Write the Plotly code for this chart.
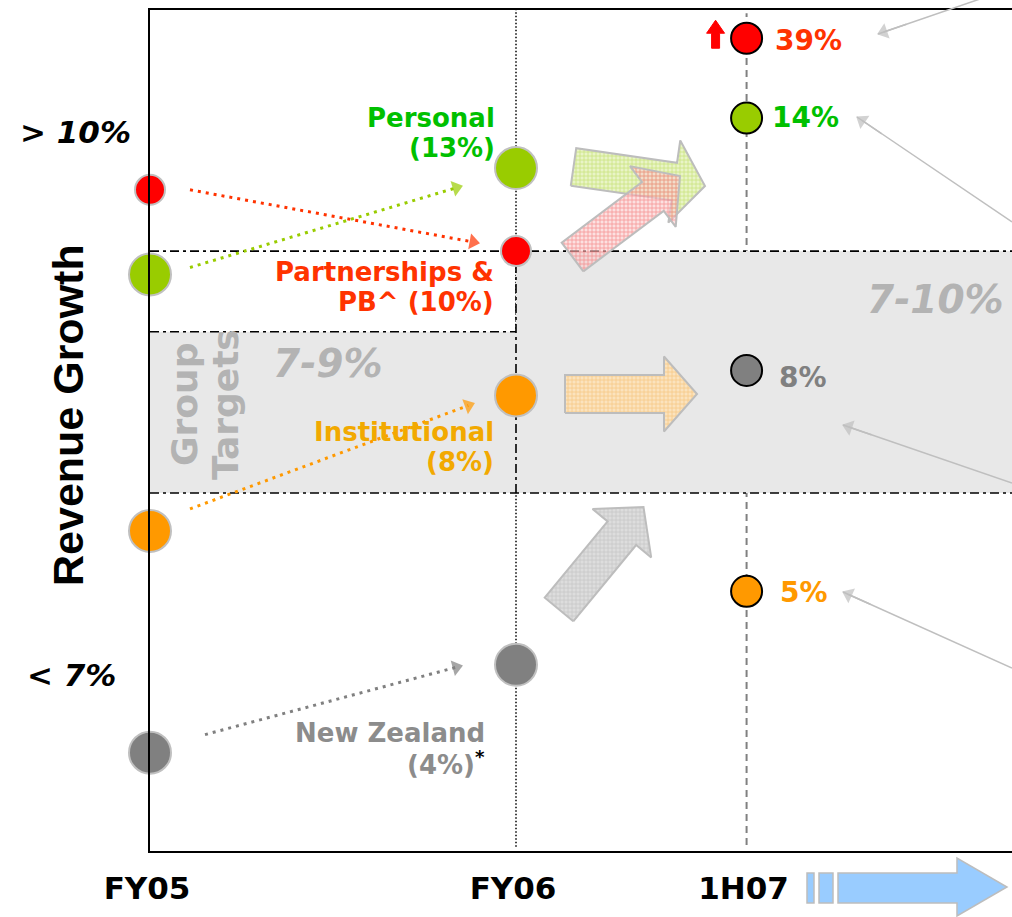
import math
import plotly.graph_objects as go

# ---------------------------------------------------------------- data
periods = ["FY05", "FY06", "1H07"]
period_x = [0.0, 1.0, 1.63]

segments = ["Partnerships & PB^", "Personal", "Institutional", "New Zealand"]
segment_label_lines = [["Partnerships &", "PB^ (10%)"], ["Personal", "(13%)"],
                       ["Institutional", "(8%)"], ["New Zealand", "(4%)"]]
segment_colors = ["#FF0000", "#99CC00", "#FF9900", "#808080"]
segment_text_colors = ["#FF3300", "#00C000", "#F2A900", "#8C8C8C"]

fy06_growth = ["10%", "13%", "8%", "4%"]
h107_growth = ["39%", "14%", "5%", "8%"]
h107_text_colors = ["#FF3300", "#00C000", "#FF9900", "#808080"]

# vertical placement of each segment on the (schematic) revenue growth scale
level_fy05 = [10.76, 9.71, 6.53, 3.78]
level_fy06 = [10.0, 11.03, 8.21, 4.87]
level_1h07 = [12.64, 11.65, 5.78, 8.52]

group_target_fy06 = [7, 9]
group_target_1h07 = [7, 10]
scale_labels = ["> 10%", "< 7%"]

# ---------------------------------------------------------------- layout geometry
L, T, W, H = 150, 10, 862, 841
FIG_W, FIG_H = 1012, 917
X_RANGE = [0.0, W / 366.0]
Y_RANGE = [2.56, 12.99]
FONT = "DejaVu Sans"


def to_px(x, y):
    px = L + (x - X_RANGE[0]) / (X_RANGE[1] - X_RANGE[0]) * W
    py = T + (Y_RANGE[1] - y) / (Y_RANGE[1] - Y_RANGE[0]) * H
    return px, py


def to_xy(px, py):
    x = X_RANGE[0] + (px - L) / W * (X_RANGE[1] - X_RANGE[0])
    y = Y_RANGE[1] - (py - T) / H * (Y_RANGE[1] - Y_RANGE[0])
    return x, y


def paper(px, py):
    return (px - L) / W, (T + H - py) / H


def block_arrow(tail, tip, shaft_w, head_w, head_len):
    (tx, ty), (hx, hy) = tail, tip
    d = math.hypot(hx - tx, hy - ty)
    ux, uy = (hx - tx) / d, (hy - ty) / d
    nx, ny = -uy, ux
    bx, by = hx - ux * head_len, hy - uy * head_len
    s, h = shaft_w / 2, head_w / 2
    return [(tx + nx * s, ty + ny * s), (bx + nx * s, by + ny * s),
            (bx + nx * h, by + ny * h), (hx, hy),
            (bx - nx * h, by - ny * h), (bx - nx * s, by - ny * s),
            (tx - nx * s, ty - ny * s), (tx + nx * s, ty + ny * s)]


fig = go.Figure()
shapes = []

# ---------------------------------------------------------------- hatched trend arrows
trend_arrows = [
    # (tail px, tip px, shaft, head, head length, bg, fg)
    ((573.5, 167), (705, 186), 38, 83, 31, "rgba(232,243,196,0.95)", "#A8D030"),
    ((572.5, 257), (680, 176), 36, 76, 34, "rgba(250,205,205,0.6)", "#F04848"),
    ((565, 394), (697, 394), 38, 75, 33, "#FBE3BE", "#F2AE4A"),
    ((559, 609.5), (643.5, 507), 37, 76, 34, "#DDDDDD", "#AFAFAF"),
]
for tail, tip, sw, hw, hl, bg, fg in trend_arrows:
    pts = [to_xy(*p) for p in block_arrow(tail, tip, sw, hw, hl)]
    fig.add_trace(go.Scatter(
        x=[p[0] for p in pts], y=[p[1] for p in pts], mode="lines",
        fill="toself", fillcolor=bg,
        fillpattern=dict(shape="+", fgcolor=fg, bgcolor=bg, size=4, solidity=0.35),
        line=dict(color="#BDBDBD", width=2), hoverinfo="skip"))

# ---------------------------------------------------------------- FY05 -> FY06 dotted movement arrows
start_offsets = [(40, 0), (40, -7), (40, -22), (55, -18)]
end_offsets = [(-37, -8), (-54, 18), (-42, 8), (-54, 1)]
for i in range(len(segments)):
    sx, sy = to_px(period_x[0], level_fy05[i])
    ex, ey = to_px(period_x[1], level_fy06[i])
    sx, sy = sx + start_offsets[i][0], sy + start_offsets[i][1]
    ex, ey = ex + end_offsets[i][0], ey + end_offsets[i][1]
    d = math.hypot(ex - sx, ey - sy)
    cx, cy = ex - (ex - sx) / d * 6, ey - (ey - sy) / d * 6
    p0, p1 = to_xy(sx, sy), to_xy(cx, cy)
    col = segment_text_colors[i] if i == 0 else segment_colors[i]
    fig.add_trace(go.Scatter(
        x=[p0[0], p1[0]], y=[p0[1], p1[1]], mode="lines+markers",
        line=dict(color=col, width=3, dash="3px,5px"),
        marker=dict(symbol=["circle", "triangle-up"], size=[0, 14], color=col,
                    angleref="previous", line=dict(width=0)),
        hoverinfo="skip"))

# ---------------------------------------------------------------- FY05 / FY06 bubbles
bubble_size = [30, 42, 42, 42]
for levels, xi in ((level_fy05, 0), (level_fy06, 1)):
    fig.add_trace(go.Scatter(
        x=[period_x[xi]] * len(segments), y=levels, mode="markers", cliponaxis=False,
        marker=dict(size=bubble_size, color=segment_colors, opacity=1,
                    line=dict(color="#C0C0C0", width=2)),
        hoverinfo="skip"))

# ---------------------------------------------------------------- 1H07 markers
fig.add_trace(go.Scatter(
    x=[period_x[2]] * len(segments), y=level_1h07, mode="markers",
    marker=dict(size=31, color=segment_colors, opacity=1, line=dict(color="black", width=2)),
    hoverinfo="skip"))

# small red "up" arrow next to Partnerships 1H07
rpx, rpy = to_px(period_x[2], level_1h07[0])
up_pts = [to_xy(*p) for p in block_arrow((rpx - 31, rpy + 10), (rpx - 31, rpy - 18), 8, 18, 13)]
fig.add_trace(go.Scatter(x=[p[0] for p in up_pts], y=[p[1] for p in up_pts], mode="lines",
                         fill="toself", fillcolor="#FF0000", line=dict(color="#FF0000", width=1),
                         hoverinfo="skip"))

# ---------------------------------------------------------------- grey call-out pointers from the right
pointer_lines = [((878, 34), (1012, -12)), ((857, 117), (1012, 222)),
                 ((843, 425), (1012, 483)), ((843, 592), (1012, 668))]
for (hx, hy), (tx, ty) in pointer_lines:
    a, b = paper(tx, ty), paper(hx, hy)
    shapes.append(dict(type="line", xref="paper", yref="paper", x0=a[0], y0=a[1],
                       x1=b[0], y1=b[1], line=dict(color="#BFBFBF", width=1.5)))
    d = math.hypot(tx - hx, ty - hy)
    ux, uy = (hx - tx) / d, (hy - ty) / d
    q0 = to_xy(hx - ux * 30, hy - uy * 30)
    q1 = to_xy(hx - ux * 6, hy - uy * 6)
    fig.add_trace(go.Scatter(
        x=[q0[0], q1[0]], y=[q0[1], q1[1]], mode="lines+markers",
        line=dict(color="#BFBFBF", width=1.5),
        marker=dict(symbol=["circle", "triangle-up"], size=[0, 14], color="#BFBFBF",
                    angleref="previous", line=dict(width=0)),
        hoverinfo="skip"))

# ---------------------------------------------------------------- reference bands and guide lines
shapes += [
    dict(type="rect", xref="x", yref="y", x0=period_x[0], x1=period_x[1],
         y0=group_target_fy06[0], y1=group_target_fy06[1],
         fillcolor="#E8E8E8", line=dict(width=0), layer="below"),
    dict(type="rect", xref="x", yref="y", x0=period_x[1], x1=X_RANGE[1],
         y0=group_target_1h07[0], y1=group_target_1h07[1],
         fillcolor="#E8E8E8", line=dict(width=0), layer="below"),
    dict(type="line", xref="x", yref="paper", x0=period_x[1], x1=period_x[1], y0=0.005, y1=1,
         line=dict(color="black", width=1.5, dash="1.5px,2px"), layer="below"),
    dict(type="line", xref="x", yref="paper", x0=period_x[2], x1=period_x[2], y0=0.007, y1=0.996,
         line=dict(color="#808080", width=2, dash="7px,5px"), layer="below"),
]
dashdot = dict(color="black", width=1.6, dash="9px,4px,3px,4px")
shapes += [
    dict(type="line", xref="x", yref="y", x0=period_x[0], x1=X_RANGE[1],
         y0=group_target_1h07[1], y1=group_target_1h07[1], line=dashdot, layer="below"),
    dict(type="line", xref="x", yref="y", x0=period_x[0], x1=X_RANGE[1],
         y0=group_target_1h07[0], y1=group_target_1h07[0], line=dashdot, layer="below"),
    dict(type="line", xref="x", yref="y", x0=period_x[0], x1=period_x[1],
         y0=group_target_fy06[1], y1=group_target_fy06[1], line=dashdot, layer="below"),
    dict(type="line", xref="x", yref="y", x0=period_x[1], x1=period_x[1],
         y0=group_target_1h07[0], y1=group_target_1h07[1], line=dashdot, layer="below"),
]

# timeline arrow under the axis
blue = dict(fillcolor="#99CCFF", line=dict(color="#BDBDBD", width=1.5))
for x0, x1 in ((807, 814), (819, 833)):
    a, b = paper(x0, 903), paper(x1, 873)
    shapes.append(dict(type="rect", xref="paper", yref="paper",
                       x0=a[0], y0=a[1], x1=b[0], y1=b[1], **blue))
arrow_px = [(838, 873), (957, 873), (957, 858), (1007, 887), (957, 916), (957, 903), (838, 903)]
path = "M " + " L ".join("{:.5f},{:.5f}".format(*paper(*p)) for p in arrow_px) + " Z"
shapes.append(dict(type="path", xref="paper", yref="paper", path=path, **blue))

# ---------------------------------------------------------------- annotations
ann = []


def text_at(px, py, text, size, color, xanchor="center", weight="bold", style="normal",
            family=FONT, angle=0):
    x, y = paper(px, py)
    ann.append(dict(xref="paper", yref="paper", x=x, y=y, text=text, showarrow=False,
                    xanchor=xanchor, yanchor="middle", textangle=angle,
                    font=dict(family=family, size=size, color=color, weight=weight, style=style)))


text_at(68, 415, "Revenue Growth", 43, "black", family="Liberation Sans", angle=-90)
text_at(133, 132, scale_labels[0], 31, "black", xanchor="right", style="italic")
text_at(118, 675, scale_labels[1], 31, "black", xanchor="right", style="italic")
text_at(185, 405, "Group", 36, "#B3B3B3", angle=-90)
text_at(226, 405, "Targets", 36, "#B3B3B3", angle=-90)
text_at(328, 364, "7-9%", 39, "#B3B3B3", style="italic")
text_at(935, 299, "7-10%", 39, "#B3B3B3", style="italic")

# FY06 segment labels, two right-aligned lines to the left of each bubble
fy06_label_dx = [-20, -19, -20, -29]
fy06_label_dy = [(-21, -51), (50, 20), (-37, -67), (-68, -98)]
for i, lines in enumerate(segment_label_lines):
    second = lines[1]
    if i == 3:
        second = second + "<span style='color:black'><sup>*</sup></span>"
    for txt, dy in zip((lines[0], second), fy06_label_dy[i]):
        ann.append(dict(xref="x", yref="y", x=period_x[1], y=level_fy06[i],
                        xshift=fy06_label_dx[i], yshift=dy,
                        text=txt, showarrow=False, xanchor="right", yanchor="middle",
                        font=dict(family=FONT, size=26, color=segment_text_colors[i],
                                  weight="bold")))

# 1H07 growth labels
h107_label_shift = [(26, -2), (23, 1), (31, -1), (30, -7)]
for i, lab in enumerate(h107_growth):
    ann.append(dict(xref="x", yref="y", x=period_x[2], y=level_1h07[i],
                    xshift=h107_label_shift[i][0], yshift=h107_label_shift[i][1],
                    text=lab, showarrow=False, xanchor="left", yanchor="middle",
                    font=dict(family=FONT, size=28, color=h107_text_colors[i], weight="bold")))

fig.update_layout(
    width=FIG_W, height=FIG_H,
    margin=dict(l=L, r=FIG_W - L - W, t=T, b=FIG_H - T - H),
    paper_bgcolor="white", plot_bgcolor="white",
    showlegend=False, hovermode=False,
    shapes=shapes, annotations=ann,
    xaxis=dict(range=X_RANGE, showgrid=False, zeroline=False, showline=True, mirror=True,
               linecolor="black", linewidth=2, tickvals=period_x, ticktext=periods,
               ticks="", ticklabelstandoff=9, ticklabelshift=-3,
               tickfont=dict(family=FONT, size=31, color="black", weight="bold")),
    yaxis=dict(range=Y_RANGE, showgrid=False, zeroline=False, showline=True,
               linecolor="black", linewidth=2, showticklabels=False, ticks=""),
)

fig.write_html("out.html")
